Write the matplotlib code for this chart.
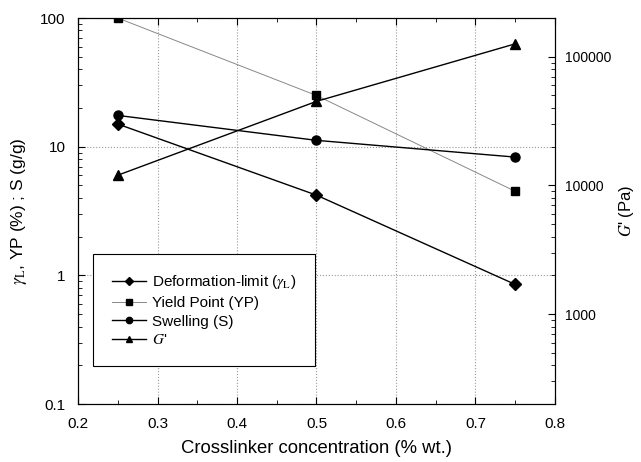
import numpy as np
import matplotlib.pyplot as plt
from matplotlib.ticker import MultipleLocator, LogLocator, NullFormatter, FixedLocator

plt.rcParams['font.family'] = ['Liberation Sans', 'DejaVu Sans']
plt.rcParams['mathtext.fontset'] = 'stix'

# data
conc = [0.25, 0.5, 0.75]
deform_limit = [15, 4.2, 0.85]
yield_point = [100, 25, 4.5]
swelling = [17.5, 11.2, 8.3]
g_prime = [12000, 45000, 126000]

fig = plt.figure(figsize=(6.41, 4.62), dpi=100)
ax = fig.add_axes([0.1217, 0.1255, 0.7441, 0.8355])
ax2 = ax.twinx()

l1, = ax.plot(conc, deform_limit, color='black', lw=1, marker='D', ms=6,
              label=r'Deformation-limit ($\gamma_{\mathrm{L}}$)')
l2, = ax.plot(conc, yield_point, color='#888888', lw=0.7, marker='s', ms=6,
              mfc='black', mec='black', label='Yield Point (YP)')
l3, = ax.plot(conc, swelling, color='black', lw=1, marker='o', ms=6.5,
              label='Swelling (S)')
l4, = ax2.plot(conc, g_prime, color='black', lw=1, marker='^', ms=7,
               label=r"$\mathit{G}$'")

ax.set_yscale('log')
ax.set_ylim(0.1, 100)
ax.set_xlim(0.2, 0.8)
ax2.set_yscale('log')
ax2.set_ylim(200, 200000)

ax.xaxis.set_major_locator(MultipleLocator(0.1))
ax.xaxis.set_minor_locator(MultipleLocator(0.05))
ax.set_yticks([0.1, 1, 10, 100])
ax.set_yticklabels(['0.1', '1', '10', '100'])
ax.yaxis.set_minor_locator(LogLocator(base=10, subs=np.arange(2, 10)))
ax.yaxis.set_minor_formatter(NullFormatter())
ax2.yaxis.set_major_locator(FixedLocator([1000, 10000, 100000]))
ax2.set_yticklabels(['1000', '10000', '100000'])
ax2.yaxis.set_minor_locator(LogLocator(base=10, subs=np.arange(2, 10)))
ax2.yaxis.set_minor_formatter(NullFormatter())

ax.tick_params(which='both', direction='in', top=True, labelsize=11, pad=9)
ax.tick_params(which='major', length=5)
ax.tick_params(which='minor', length=3)
ax2.tick_params(which='both', direction='in', labelsize=10, pad=7)
ax2.tick_params(which='major', length=5)
ax2.tick_params(which='minor', length=3)

ax.grid(True, which='major', linestyle=':', color='#999999', lw=0.8)

ax.set_xlabel('Crosslinker concentration (% wt.)', fontsize=13.3, labelpad=7)
ax.set_ylabel(r'$\gamma_{\mathrm{L}}$, YP (%) ; S (g/g)', fontsize=12.5, labelpad=8)
ax2.set_ylabel(r"$\mathit{G}$' (Pa)", fontsize=12, labelpad=4)

leg = ax.legend(handles=[l1, l2, l3, l4], loc='lower left',
                bbox_to_anchor=(0.031, 0.098), borderaxespad=0,
                fontsize=11, fancybox=False, edgecolor='black', framealpha=1,
                handlelength=2.2, handletextpad=0.4, markerscale=0.7,
                borderpad=1.25, labelspacing=0.3)
leg.get_frame().set_linewidth(0.8)

plt.savefig('out.png', dpi=100)
